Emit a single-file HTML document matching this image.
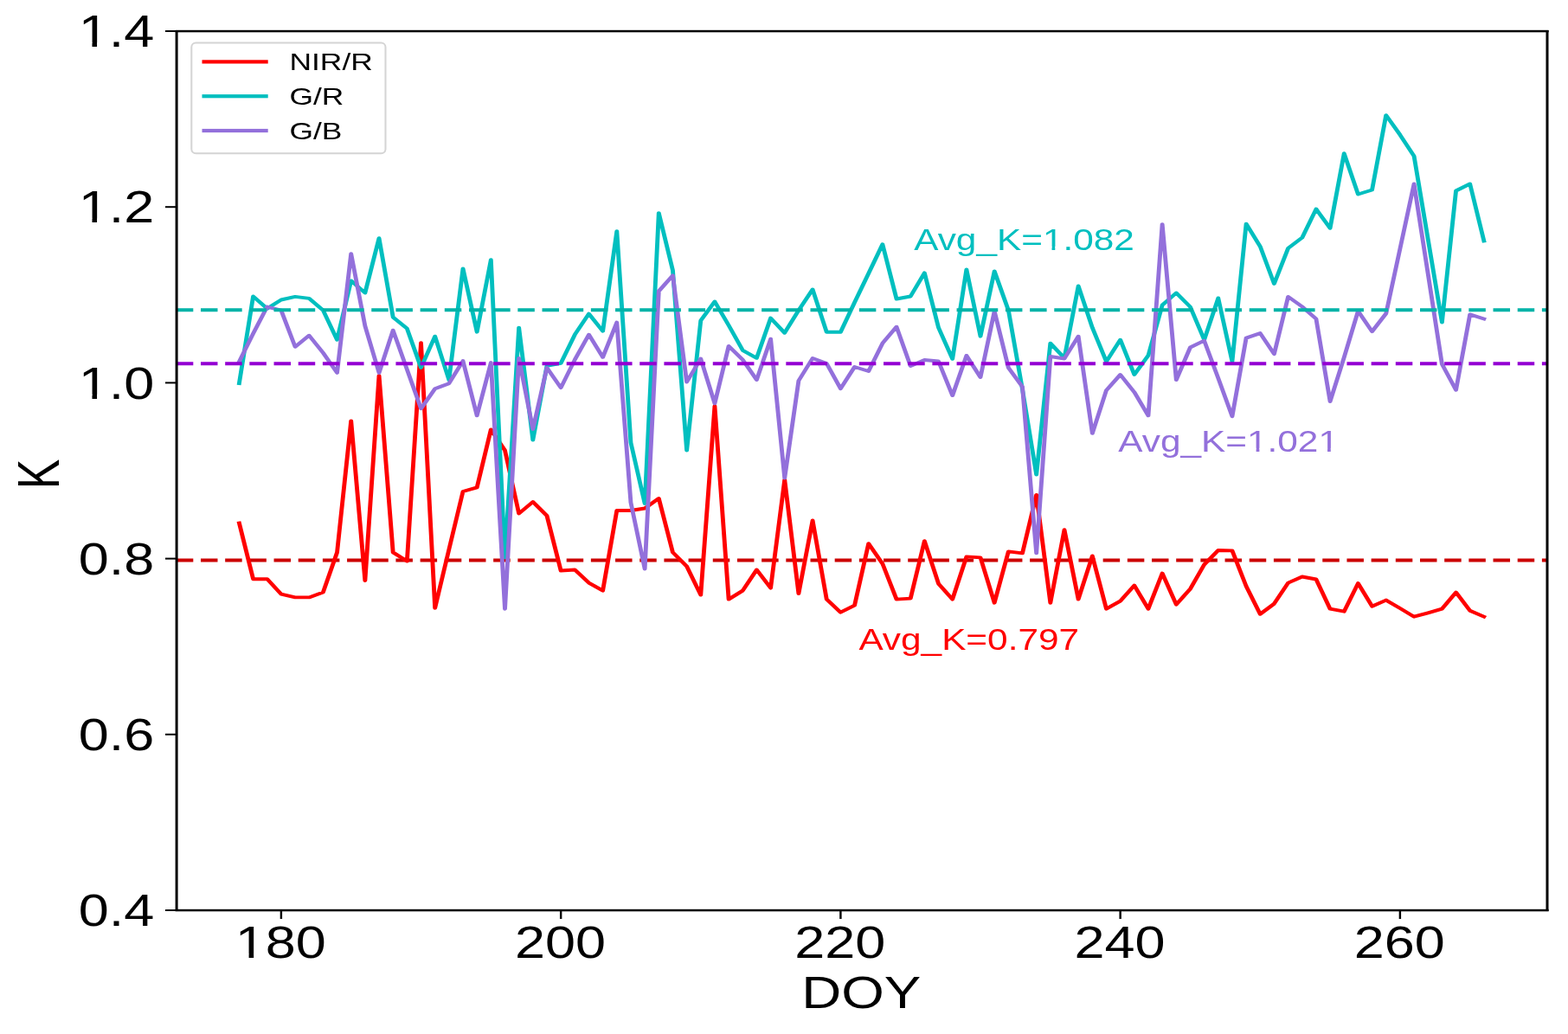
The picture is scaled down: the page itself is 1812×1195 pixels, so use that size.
<!DOCTYPE html>
<html><head><meta charset="utf-8"><title>K vs DOY</title>
<style>
html,body{margin:0;padding:0;background:#fff;}
body{width:1812px;height:1195px;overflow:hidden;}
svg{display:block;font-family:'Liberation Sans', Arial, Helvetica, sans-serif;}
</style></head><body>
<svg width="1812" height="1195" viewBox="0 0 1812 1195">
<rect x="0" y="0" width="1812" height="1195" fill="#ffffff"/>
<defs><clipPath id="ax"><rect x="163.20" y="36" width="1267.20" height="1016"/></clipPath></defs>
<g transform="scale(1.2500 1)" clip-path="url(#ax)">
<line x1="163.20" y1="647.50" x2="1430.40" y2="647.50" stroke="#cc0000" stroke-width="4.00" stroke-dasharray="15.6 6.944" stroke-dashoffset="0.15"/>
<polyline points="221.13,604.50 234.06,669.20 246.99,669.20 259.92,686.70 272.85,690.40 285.78,690.40 298.71,684.50 311.64,638.40 324.57,486.50 337.50,671.00 350.43,434.10 363.36,638.40 376.29,648.50 389.22,396.30 402.15,702.70 415.08,635.00 428.01,568.00 440.94,563.40 453.87,496.40 466.80,520.50 479.73,593.50 492.66,580.00 505.59,596.00 518.52,659.50 531.45,658.50 544.38,673.60 557.31,682.60 570.24,590.00 583.17,590.00 596.10,587.50 609.03,576.00 621.96,638.40 634.89,654.50 647.82,687.60 660.75,469.30 673.68,692.60 686.61,682.60 699.54,658.50 712.47,679.60 725.40,554.50 738.33,686.00 751.26,601.50 764.19,692.60 777.12,707.70 790.05,699.70 802.98,628.20 815.91,651.50 828.84,692.60 841.77,691.60 854.70,625.20 867.63,674.60 880.56,692.60 893.49,643.40 906.42,644.40 919.35,696.70 932.28,637.40 945.21,639.40 958.14,571.90 971.07,696.70 984.00,612.30 996.93,692.60 1009.86,642.40 1022.79,703.70 1035.72,694.60 1048.65,676.60 1061.58,703.70 1074.51,662.50 1087.44,698.70 1100.37,680.60 1113.30,652.50 1126.23,636.00 1139.16,636.40 1152.09,677.50 1165.02,709.70 1177.95,697.70 1190.88,673.60 1203.81,666.50 1216.74,669.50 1229.67,703.70 1242.60,706.70 1255.53,674.10 1268.46,700.70 1281.39,693.60 1294.32,703.00 1307.25,712.70 1320.18,708.30 1333.11,703.70 1346.04,684.60 1358.97,705.70 1371.90,712.70" fill="none" stroke="#ff0000" stroke-width="3.90" stroke-linejoin="round" stroke-linecap="square"/>
<polyline points="221.13,443.00 234.06,342.50 246.99,356.60 259.92,346.50 272.85,342.90 285.78,344.90 298.71,358.60 311.64,392.70 324.57,324.40 337.50,338.50 350.43,275.20 363.36,366.60 376.29,379.70 389.22,424.90 402.15,388.70 415.08,438.90 428.01,310.40 440.94,383.70 453.87,300.30 466.80,644.40 479.73,378.70 492.66,508.50 505.59,422.80 518.52,419.80 531.45,386.70 544.38,362.60 557.31,382.70 570.24,267.20 583.17,511.50 596.10,582.00 609.03,246.10 621.96,312.40 634.89,520.50 647.82,370.60 660.75,348.50 673.68,376.00 686.61,404.80 699.54,413.80 712.47,367.60 725.40,384.70 738.33,358.60 751.26,334.50 764.19,383.70 777.12,383.70 790.05,349.50 802.98,316.00 815.91,282.30 828.84,345.50 841.77,342.50 854.70,315.40 867.63,378.70 880.56,414.80 893.49,311.40 906.42,388.70 919.35,313.40 932.28,358.60 945.21,450.00 958.14,548.60 971.07,396.70 984.00,413.80 996.93,330.50 1009.86,378.70 1022.79,417.80 1035.72,392.70 1048.65,432.90 1061.58,410.80 1074.51,352.60 1087.44,338.50 1100.37,354.60 1113.30,392.70 1126.23,344.50 1139.16,417.80 1152.09,258.70 1165.02,284.80 1177.95,328.00 1190.88,286.80 1203.81,274.70 1216.74,241.60 1229.67,263.70 1242.60,177.30 1255.53,224.50 1268.46,219.50 1281.39,133.10 1294.32,155.80 1307.25,180.30 1320.18,276.40 1333.11,372.50 1346.04,220.50 1358.97,212.50 1371.90,278.50" fill="none" stroke="#00bfbf" stroke-width="3.90" stroke-linejoin="round" stroke-linecap="square"/>
<polyline points="221.13,418.00 234.06,385.50 246.99,354.60 259.92,358.60 272.85,400.80 285.78,387.70 298.71,407.80 311.64,430.90 324.57,293.30 337.50,376.70 350.43,430.90 363.36,381.70 376.29,427.00 389.22,472.30 402.15,449.20 415.08,443.20 428.01,417.10 440.94,480.30 453.87,419.10 466.80,703.70 479.73,414.00 492.66,496.00 505.59,425.00 518.52,448.10 531.45,415.60 544.38,386.70 557.31,412.80 570.24,372.60 583.17,580.80 596.10,657.50 609.03,336.50 621.96,318.40 634.89,441.50 647.82,414.50 660.75,466.30 673.68,399.90 686.61,415.80 699.54,439.00 712.47,391.70 725.40,552.60 738.33,440.00 751.26,414.00 764.19,420.00 777.12,449.10 790.05,424.00 802.98,429.00 815.91,396.70 828.84,377.70 841.77,423.00 854.70,416.00 867.63,417.50 880.56,457.10 893.49,411.00 906.42,436.00 919.35,359.60 932.28,425.00 945.21,447.10 958.14,639.40 971.07,412.00 984.00,414.50 996.93,388.70 1009.86,500.90 1022.79,451.10 1035.72,433.00 1048.65,453.20 1061.58,480.30 1074.51,259.20 1087.44,439.00 1100.37,401.50 1113.30,393.70 1126.23,437.00 1139.16,481.30 1152.09,390.60 1165.02,385.10 1177.95,409.20 1190.88,342.90 1203.81,354.40 1216.74,368.50 1229.67,464.10 1242.60,412.90 1255.53,359.50 1268.46,383.10 1281.39,362.40 1294.32,287.50 1307.25,212.50 1320.18,316.60 1333.11,420.70 1346.04,450.80 1358.97,363.40 1371.90,368.50" fill="none" stroke="#9370db" stroke-width="3.90" stroke-linejoin="round" stroke-linecap="square"/>
<line x1="163.20" y1="358.20" x2="1430.40" y2="358.20" stroke="#00b3a8" stroke-width="4.00" stroke-dasharray="15.6 6.944" stroke-dashoffset="0.15"/>
<line x1="163.20" y1="420.30" x2="1430.40" y2="420.30" stroke="#9400d3" stroke-width="4.00" stroke-dasharray="15.6 6.944" stroke-dashoffset="0.15"/>
</g>
<g fill="#000">
<rect x="202.6" y="35" width="3" height="1018"/>
<rect x="1786.5" y="35" width="3" height="1018"/>
<rect x="202.6" y="34.8" width="1587" height="2.5"/>
<rect x="202.6" y="1050.8" width="1587" height="2.5"/>
<rect x="191" y="35.00" width="13" height="2"/>
<rect x="191" y="238.20" width="13" height="2"/>
<rect x="191" y="441.40" width="13" height="2"/>
<rect x="191" y="644.60" width="13" height="2"/>
<rect x="191" y="847.80" width="13" height="2"/>
<rect x="191" y="1051.00" width="13" height="2"/>
<rect x="323.70" y="1052" width="2.4" height="10"/>
<rect x="646.95" y="1052" width="2.4" height="10"/>
<rect x="970.20" y="1052" width="2.4" height="10"/>
<rect x="1293.45" y="1052" width="2.4" height="10"/>
<rect x="1616.70" y="1052" width="2.4" height="10"/>
</g>
<g transform="translate(178.20 54.20) scale(1.2350 1)"><text id="t0" x="0" y="0" font-size="51.00" fill="#000" text-anchor="end">1.4</text><rect x="-67.75" y="-4.81" width="9.69" height="5.41" fill="#fff"/><rect x="-53.56" y="-4.81" width="9.29" height="5.41" fill="#fff"/></g>
<g transform="translate(178.20 257.40) scale(1.2350 1)"><text id="t1" x="0" y="0" font-size="51.00" fill="#000" text-anchor="end">1.2</text><rect x="-67.75" y="-4.81" width="9.69" height="5.41" fill="#fff"/><rect x="-53.56" y="-4.81" width="9.29" height="5.41" fill="#fff"/></g>
<g transform="translate(178.20 460.60) scale(1.2350 1)"><text id="t2" x="0" y="0" font-size="51.00" fill="#000" text-anchor="end">1.0</text><rect x="-67.75" y="-4.81" width="9.69" height="5.41" fill="#fff"/><rect x="-53.56" y="-4.81" width="9.29" height="5.41" fill="#fff"/></g>
<g transform="translate(178.20 663.80) scale(1.2350 1)"><text id="t3" x="0" y="0" font-size="51.00" fill="#000" text-anchor="end">0.8</text></g>
<g transform="translate(178.20 867.00) scale(1.2350 1)"><text id="t4" x="0" y="0" font-size="51.00" fill="#000" text-anchor="end">0.6</text></g>
<g transform="translate(178.20 1070.20) scale(1.2350 1)"><text id="t5" x="0" y="0" font-size="51.00" fill="#000" text-anchor="end">0.4</text></g>
<g transform="translate(324.30 1107.40) scale(1.2350 1)"><text id="t6" x="0" y="0" font-size="51.00" fill="#000" text-anchor="middle">180</text><rect x="-39.41" y="-4.81" width="9.69" height="5.41" fill="#fff"/><rect x="-25.21" y="-4.81" width="9.29" height="5.41" fill="#fff"/></g>
<g transform="translate(647.55 1107.40) scale(1.2350 1)"><text id="t7" x="0" y="0" font-size="51.00" fill="#000" text-anchor="middle">200</text></g>
<g transform="translate(970.80 1107.40) scale(1.2350 1)"><text id="t8" x="0" y="0" font-size="51.00" fill="#000" text-anchor="middle">220</text></g>
<g transform="translate(1294.05 1107.40) scale(1.2350 1)"><text id="t9" x="0" y="0" font-size="51.00" fill="#000" text-anchor="middle">240</text></g>
<g transform="translate(1617.30 1107.40) scale(1.2350 1)"><text id="t10" x="0" y="0" font-size="51.00" fill="#000" text-anchor="middle">260</text></g>
<g transform="translate(995.30 1164.50) scale(1.2500 1)"><text id="t11" x="0" y="0" font-size="51.00" fill="#000" text-anchor="middle">DOY</text></g>
<text transform="translate(67.9 547.9) rotate(-90) scale(1 1.336)" font-size="52" fill="#000" text-anchor="middle">K</text>
<g transform="translate(1056.20 288.60) scale(1.1930 1)"><text id="t12" x="0" y="0" font-size="35.50" fill="#00bfbf" text-anchor="start">Avg_K=1.082</text><rect x="126.63" y="-3.65" width="6.93" height="4.25" fill="#fff"/><rect x="136.70" y="-3.65" width="6.65" height="4.25" fill="#fff"/></g>
<g transform="translate(1292.30 521.50) scale(1.1930 1)"><text id="t13" x="0" y="0" font-size="35.50" fill="#9370db" text-anchor="start">Avg_K=1.021</text><rect x="126.63" y="-3.65" width="6.93" height="4.25" fill="#fff"/><rect x="136.70" y="-3.65" width="6.65" height="4.25" fill="#fff"/><rect x="195.71" y="-3.65" width="6.93" height="4.25" fill="#fff"/><rect x="205.77" y="-3.65" width="6.65" height="4.25" fill="#fff"/></g>
<g transform="translate(992.40 750.90) scale(1.1930 1)"><text id="t14" x="0" y="0" font-size="35.50" fill="#ff0000" text-anchor="start">Avg_K=0.797</text></g>
<rect x="221.3" y="49.6" width="224.2" height="127.6" rx="5" ry="5" fill="#fff" fill-opacity="0.8" stroke="#d4d4d4" stroke-width="2"/>
<rect x="233.5" y="69.30" width="76.2" height="4.2" fill="#ff0000"/>
<g transform="translate(334.50 81.00) scale(1.2500 1)"><text id="t15" x="0" y="0" font-size="28.30" fill="#000" text-anchor="start">NIR/R</text></g>
<rect x="233.5" y="109.10" width="76.2" height="4.2" fill="#00bfbf"/>
<g transform="translate(334.50 120.80) scale(1.2500 1)"><text id="t16" x="0" y="0" font-size="28.30" fill="#000" text-anchor="start">G/R</text></g>
<rect x="233.5" y="148.90" width="76.2" height="4.2" fill="#9370db"/>
<g transform="translate(334.50 160.60) scale(1.2500 1)"><text id="t17" x="0" y="0" font-size="28.30" fill="#000" text-anchor="start">G/B</text></g>
</svg>
</body></html>
